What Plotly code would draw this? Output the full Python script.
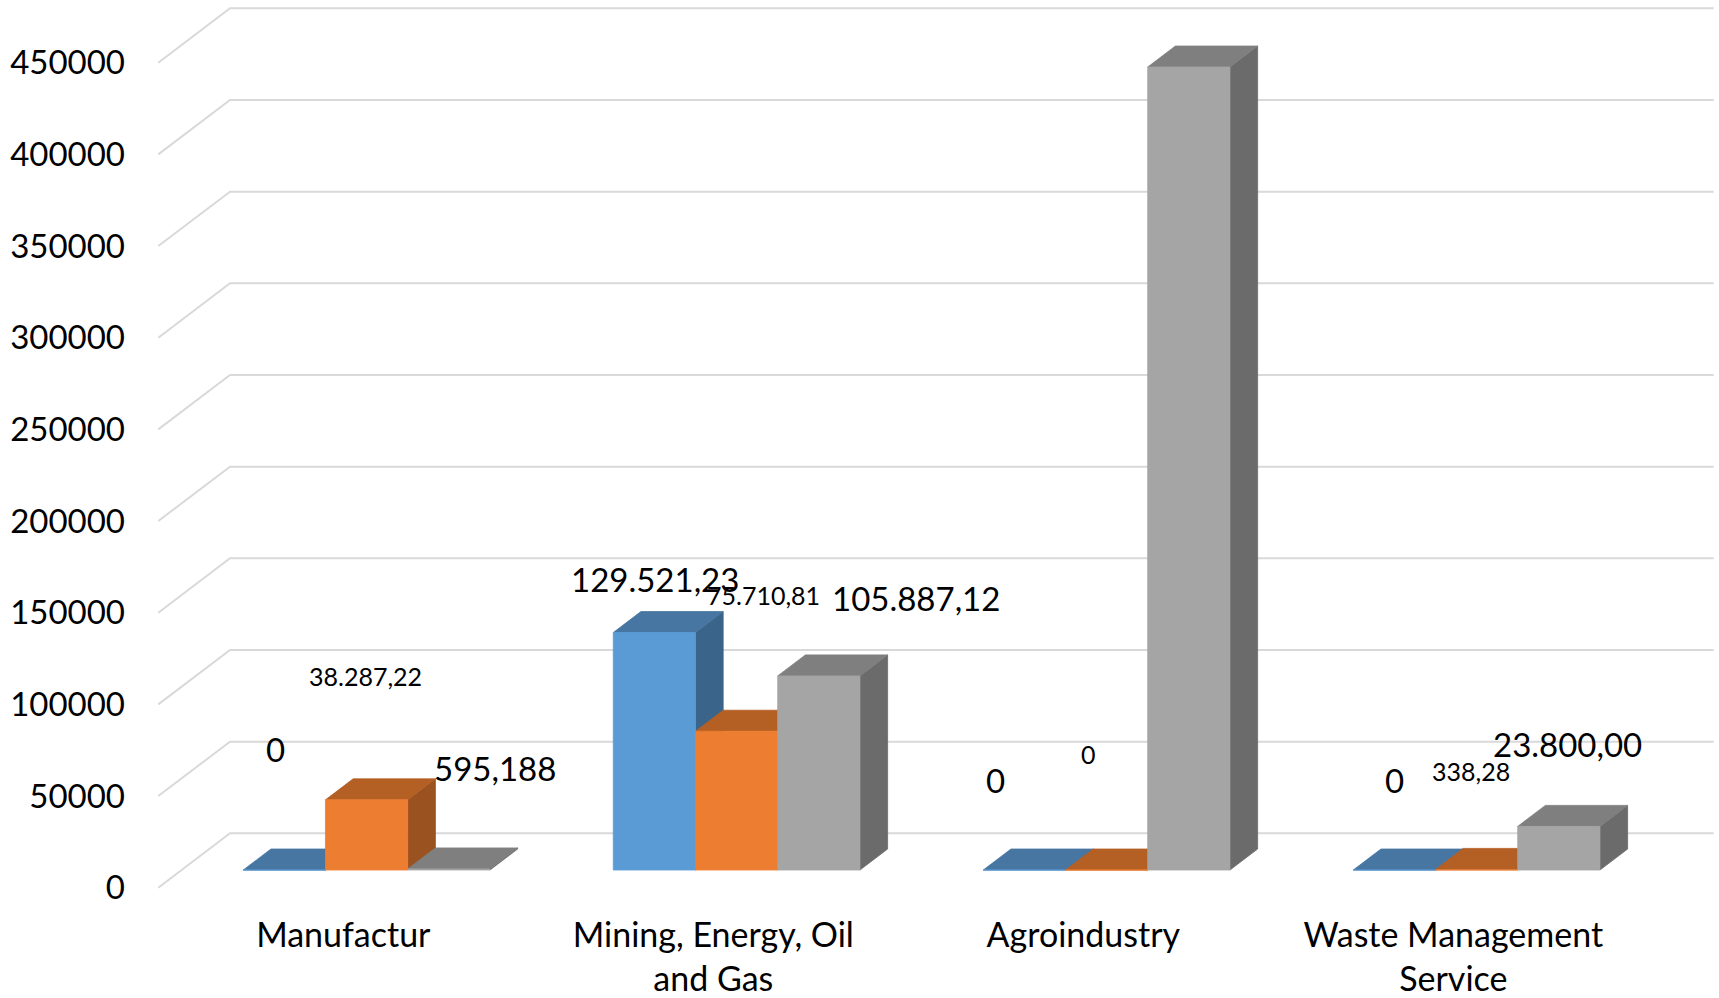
import plotly.graph_objects as go

# ---------------- data ----------------
categories = ["Manufactur", "Mining, Energy, Oil<br>and Gas", "Agroindustry",
              "Waste Management<br>Service"]
series_names = ["Series 1", "Series 2", "Series 3"]
series1 = [0, 129521.23, 0, 0]
series2 = [38287.22, 75710.81, 0, 338.28]
series3 = [595.188, 105887.12, 438000, 23800.00]
labels1 = ["0", "129.521,23", "0", "0"]
labels2 = ["38.287,22", "75.710,81", "0", "338,28"]
labels3 = ["595,188", "105.887,12", None, "23.800,00"]
y_ticks = [0, 50000, 100000, 150000, 200000, 250000, 300000, 350000, 400000, 450000]
y_tick_text = [str(t) for t in y_ticks]

# ---------------- style / geometry ----------------
W, H = 1719, 998
ML, MB = 158, 108
ORIGIN_X, ORIGIN_Y = 158.3, 887.7      # front-left floor corner (px)
CAT_PX = 370.0                         # px per category
VAL_PX = 1.8333e-3                     # px per value unit
WALL_DX_PX, WALL_DY_PX = 71.7, 54.4    # full depth of floor (px)
DU = WALL_DX_PX / CAT_PX
DV = WALL_DY_PX / VAL_PX
BAR_W = 2 / 9
GAP = (1 - 3 * BAR_W) / 2
D0, D1 = 0.325, 0.711                  # bar depth range
GRID_END = 4.01

front_cols = ["#5B9BD5", "#ED7D31", "#A5A5A5"]
top_cols = ["#4676A1", "#B45F24", "#7F7F7F"]
side_cols = ["#3A6489", "#9A5220", "#6B6B6B"]
label_sizes = [33, 25, 33]
label_offsets = [
    [(-9, -121), (1, -54), (-29, -90), (0, -90)],
    [(-1, -124), (27, -136), (-18, -116), (-6, -98)],
    [(46, -101), (97, -78), (0, 0), (9, -82)],
]
FONT = "Lato"

series = [series1, series2, series3]
labels = [labels1, labels2, labels3]


def proj(u, v, d):
    return u + d * DU, v + d * DV


def poly(pts):
    xs, ys = [], []
    for (u, v, d) in pts:
        x, y = proj(u, v, d)
        xs.append(x)
        ys.append(y)
    xs.append(xs[0])
    ys.append(ys[0])
    return xs, ys


fig = go.Figure()

# gridlines (left wall + back wall)
gx, gy = [], []
for t in y_ticks:
    for (u, d) in [(0, 0), (0, 1), (GRID_END, 1)]:
        x, y = proj(u, t, d)
        gx.append(x)
        gy.append(y)
    gx.append(None)
    gy.append(None)
fig.add_trace(go.Scatter(x=gx, y=gy, mode="lines", line=dict(color="#D9D9D9", width=2),
                         hoverinfo="skip", showlegend=False))

faces = {"side": [], "top": [], "front": []}
for s, vals in enumerate(series):
    fx, fy, tx, ty, sx, sy = [], [], [], [], [], []
    for i, val in enumerate(vals):
        ul = i + GAP + s * BAR_W
        ur = ul + BAR_W
        x, y = poly([(ur, 0, D0), (ur, 0, D1), (ur, val, D1), (ur, val, D0)])
        sx += x + [None]; sy += y + [None]
        x, y = poly([(ul, val, D0), (ur, val, D0), (ur, val, D1), (ul, val, D1)])
        tx += x + [None]; ty += y + [None]
        x, y = poly([(ul, 0, D0), (ur, 0, D0), (ur, val, D0), (ul, val, D0)])
        fx += x + [None]; fy += y + [None]
    faces["side"].append((sx, sy, side_cols[s]))
    faces["top"].append((tx, ty, top_cols[s]))
    faces["front"].append((fx, fy, front_cols[s]))

for kind in ["side", "top", "front"]:
    for s, (xs, ys, col) in enumerate(faces[kind]):
        fig.add_trace(go.Scatter(x=xs, y=ys, mode="lines", fill="toself", fillcolor=col,
                                 line=dict(color=col, width=0.8), name=series_names[s],
                                 hoverinfo="skip", showlegend=False))

# data labels
annotations = []
for s, vals in enumerate(series):
    for i, val in enumerate(vals):
        txt = labels[s][i]
        if txt is None:
            continue
        cu = i + GAP + (s + 0.5) * BAR_W
        x, y = proj(cu, val, D0)
        dx, dy = label_offsets[s][i]
        annotations.append(dict(x=x, y=y, xref="x", yref="y", text=txt, showarrow=False,
                                xanchor="center", yanchor="middle", xshift=dx, yshift=-dy,
                                font=dict(family=FONT, size=label_sizes[s], color="#000000")))

xrange = [(ML - ORIGIN_X) / CAT_PX, (W - ORIGIN_X) / CAT_PX]
yrange = [(ORIGIN_Y - (H - MB)) / VAL_PX, ORIGIN_Y / VAL_PX]

fig.update_layout(
    width=W, height=H,
    margin=dict(l=ML, r=0, t=0, b=MB, pad=0),
    paper_bgcolor="white", plot_bgcolor="white",
    showlegend=False,
    annotations=annotations,
    xaxis=dict(range=xrange, showgrid=False, zeroline=False, showline=False, ticks="",
               tickmode="array", tickvals=[i + 0.5 for i in range(len(categories))],
               ticktext=categories, ticklabelstandoff=22,
               tickfont=dict(family=FONT, size=34, color="#000000"), fixedrange=True),
    yaxis=dict(range=yrange, showgrid=False, zeroline=False, showline=False, ticks="",
               tickmode="array", tickvals=y_ticks, ticktext=y_tick_text,
               ticklabelstandoff=32,
               tickfont=dict(family=FONT, size=33, color="#000000"), fixedrange=True),
)

fig.write_html("out.html")
